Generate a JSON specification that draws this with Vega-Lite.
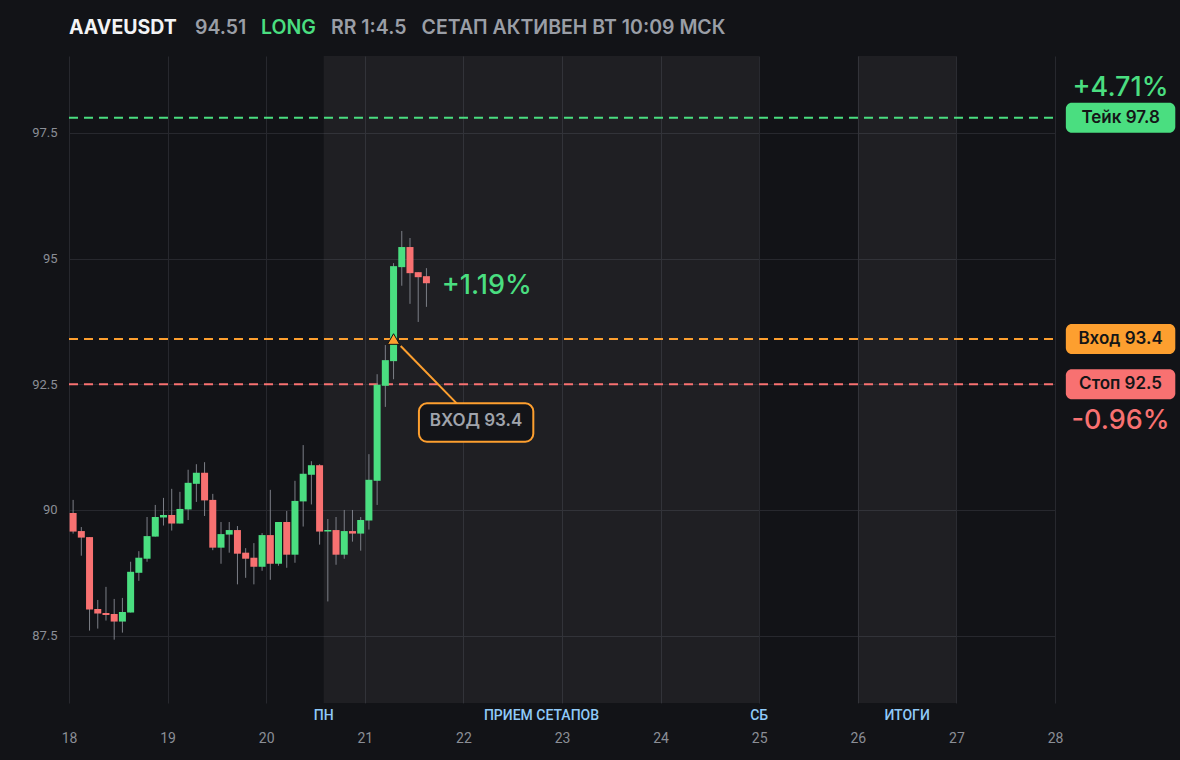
{
  "$schema": "https://vega.github.io/schema/vega-lite/v6.json",
  "width": 986,
  "height": 647,
  "autosize": {"type": "none"},
  "padding": {"left": 69, "top": 56, "right": 125, "bottom": 57},
  "background": "#121317",
  "config": {
    "view": {"stroke": null},
    "font": "Inter",
    "axis": {
      "domain": false,
      "ticks": false,
      "grid": true,
      "gridColor": "#27282e",
      "gridWidth": 1,
      "labelColor": "#8b8e96",
      "labelFont": "Roboto",
      "labelFlush": false,
      "title": null
    }
  },
  "datasets": {
    "candles": [
      {"t": 18.0417, "o": 89.94, "h": 90.20, "l": 89.53, "c": 89.57},
      {"t": 18.1250, "o": 89.58, "h": 89.66, "l": 89.09, "c": 89.45},
      {"t": 18.2083, "o": 89.46, "h": 89.46, "l": 87.60, "c": 88.02},
      {"t": 18.2917, "o": 88.03, "h": 88.21, "l": 87.64, "c": 87.94},
      {"t": 18.3750, "o": 87.95, "h": 88.47, "l": 87.80, "c": 87.91},
      {"t": 18.4583, "o": 87.93, "h": 88.23, "l": 87.42, "c": 87.78},
      {"t": 18.5417, "o": 87.78, "h": 88.25, "l": 87.56, "c": 87.97},
      {"t": 18.6250, "o": 87.96, "h": 88.97, "l": 87.96, "c": 88.77},
      {"t": 18.7083, "o": 88.75, "h": 89.18, "l": 88.59, "c": 89.05},
      {"t": 18.7917, "o": 89.03, "h": 89.86, "l": 88.97, "c": 89.48},
      {"t": 18.8750, "o": 89.47, "h": 90.10, "l": 89.47, "c": 89.86},
      {"t": 18.9583, "o": 89.85, "h": 90.24, "l": 89.69, "c": 89.90},
      {"t": 19.0417, "o": 89.90, "h": 90.42, "l": 89.59, "c": 89.73},
      {"t": 19.1250, "o": 89.73, "h": 90.36, "l": 89.73, "c": 90.02},
      {"t": 19.2083, "o": 90.01, "h": 90.80, "l": 89.80, "c": 90.54},
      {"t": 19.2917, "o": 90.52, "h": 90.91, "l": 90.16, "c": 90.74},
      {"t": 19.3750, "o": 90.74, "h": 90.95, "l": 89.88, "c": 90.19},
      {"t": 19.4583, "o": 90.20, "h": 90.32, "l": 89.20, "c": 89.25},
      {"t": 19.5417, "o": 89.25, "h": 89.76, "l": 88.93, "c": 89.52},
      {"t": 19.6250, "o": 89.51, "h": 89.76, "l": 89.15, "c": 89.60},
      {"t": 19.7083, "o": 89.60, "h": 89.68, "l": 88.52, "c": 89.13},
      {"t": 19.7917, "o": 89.15, "h": 89.24, "l": 88.65, "c": 89.03},
      {"t": 19.8750, "o": 89.05, "h": 89.34, "l": 88.52, "c": 88.87},
      {"t": 19.9583, "o": 88.87, "h": 89.54, "l": 88.79, "c": 89.50},
      {"t": 20.0417, "o": 89.50, "h": 90.40, "l": 88.61, "c": 88.93},
      {"t": 20.1250, "o": 88.93, "h": 89.76, "l": 88.89, "c": 89.76},
      {"t": 20.2083, "o": 89.76, "h": 89.98, "l": 88.85, "c": 89.11},
      {"t": 20.2917, "o": 89.11, "h": 90.58, "l": 88.95, "c": 90.18},
      {"t": 20.3750, "o": 90.17, "h": 91.29, "l": 89.67, "c": 90.72},
      {"t": 20.4583, "o": 90.70, "h": 90.97, "l": 90.11, "c": 90.89},
      {"t": 20.5417, "o": 90.89, "h": 90.91, "l": 89.31, "c": 89.57},
      {"t": 20.6250, "o": 89.57, "h": 89.82, "l": 88.18, "c": 89.60},
      {"t": 20.7083, "o": 89.60, "h": 89.86, "l": 88.91, "c": 89.11},
      {"t": 20.7917, "o": 89.11, "h": 90.00, "l": 89.03, "c": 89.58},
      {"t": 20.8750, "o": 89.58, "h": 90.00, "l": 89.37, "c": 89.53},
      {"t": 20.9583, "o": 89.53, "h": 89.86, "l": 89.19, "c": 89.80},
      {"t": 21.0417, "o": 89.79, "h": 91.11, "l": 89.61, "c": 90.60},
      {"t": 21.1250, "o": 90.58, "h": 92.70, "l": 90.10, "c": 92.49},
      {"t": 21.2083, "o": 92.47, "h": 93.28, "l": 92.05, "c": 92.98},
      {"t": 21.2917, "o": 92.96, "h": 94.91, "l": 92.60, "c": 94.85},
      {"t": 21.3750, "o": 94.83, "h": 95.55, "l": 94.46, "c": 95.23},
      {"t": 21.4583, "o": 95.23, "h": 95.41, "l": 94.10, "c": 94.71},
      {"t": 21.5417, "o": 94.73, "h": 94.73, "l": 93.74, "c": 94.63},
      {"t": 21.6250, "o": 94.65, "h": 94.81, "l": 94.04, "c": 94.51}
    ],
    "levels": [
      {"level": 97.8, "kind": "Тейк", "label": "Тейк 97.8"},
      {"level": 93.4, "kind": "Вход", "label": "Вход 93.4"},
      {"level": 92.5, "kind": "Стоп", "label": "Стоп 92.5"}
    ],
    "bands": [
      {"start": 20.5833, "end": 25, "name": "ПРИЕМ СЕТАПОВ"},
      {"start": 26, "end": 27, "name": "ИТОГИ"}
    ],
    "bandLabels": [
      {"x": 20.5833, "label": "ПН"},
      {"x": 22.7917, "label": "ПРИЕМ СЕТАПОВ"},
      {"x": 25, "label": "СБ"},
      {"x": 26.5, "label": "ИТОГИ"}
    ]
  },
  "layer": [
    {
      "data": {"name": "bands"},
      "mark": {"type": "rect", "color": "#ffffff", "opacity": 0.055},
      "encoding": {
        "x": {"field": "start", "type": "quantitative",
          "scale": {"domain": [18, 28], "nice": false, "zero": false, "padding": 0},
          "axis": {"values": [18, 19, 20, 21, 22, 23, 24, 25, 26, 27, 28], "labelFontSize": 14, "labelPadding": 28, "format": "d"}},
        "x2": {"field": "end"},
        "y": {"datum": 86.16, "type": "quantitative",
          "scale": {"domain": [86.16, 99.03], "nice": false, "zero": false, "padding": 0},
          "axis": {"values": [87.5, 90, 92.5, 95, 97.5], "labelExpr": "replace(format(datum.value, '.1f'), '.0', '')", "labelFontSize": 13, "labelPadding": 12}},
        "y2": {"datum": 99.03}
      }
    },
    {
      "data": {"name": "bandLabels"},
      "mark": {"type": "text", "color": "#90caf9", "font": "Roboto", "fontWeight": 500, "fontSize": 14, "baseline": "middle", "align": "center", "dy": 13},
      "encoding": {
        "x": {"field": "x", "type": "quantitative"},
        "y": {"datum": 86.16},
        "text": {"field": "label"}
      }
    },
    {
      "data": {"name": "levels"},
      "mark": {"type": "rule", "strokeWidth": 2, "strokeDash": [9, 6]},
      "encoding": {
        "x": {"datum": 18},
        "x2": {"datum": 28},
        "y": {"field": "level", "type": "quantitative"},
        "color": {"field": "kind", "type": "nominal",
          "scale": {"domain": ["Тейк", "Вход", "Стоп"], "range": ["#4ade80", "#fd9f2f", "#f87171"]},
          "legend": null}
      }
    },
    {
      "data": {"name": "candles"},
      "mark": {"type": "rule", "color": "#7c7f87", "strokeWidth": 1},
      "encoding": {
        "x": {"field": "t", "type": "quantitative"},
        "y": {"field": "l", "type": "quantitative"},
        "y2": {"field": "h"}
      }
    },
    {
      "data": {"name": "candles"},
      "mark": {"type": "bar", "size": 7},
      "encoding": {
        "x": {"field": "t", "type": "quantitative"},
        "y": {"field": "o", "type": "quantitative"},
        "y2": {"field": "c"},
        "color": {"condition": {"test": "datum.c >= datum.o", "value": "#4ade80"}, "value": "#f87171"}
      }
    },
    {
      "data": {"name": "levels"},
      "mark": {"type": "rect", "cornerRadius": 6, "yOffset": -15, "y2Offset": 15},
      "encoding": {
        "x": {"datum": 28.11},
        "x2": {"datum": 29.22},
        "y": {"field": "level", "type": "quantitative"},
        "y2": {"field": "level"},
        "color": {"field": "kind", "type": "nominal", "legend": null}
      }
    },
    {
      "data": {"name": "levels"},
      "mark": {"type": "text", "color": "#141517", "fontSize": 17, "fontWeight": 600, "align": "center", "baseline": "middle"},
      "encoding": {
        "x": {"datum": 28.665},
        "y": {"field": "level", "type": "quantitative"},
        "text": {"field": "label"}
      }
    },
    {
      "data": {"values": [{"level": 97.8, "pct": "+4.71%"}]},
      "mark": {"type": "text", "color": "#4ade80", "fontSize": 27, "fontWeight": 500, "align": "center", "baseline": "middle", "dy": -30},
      "encoding": {
        "x": {"datum": 28.665},
        "y": {"field": "level", "type": "quantitative"},
        "text": {"field": "pct"}
      }
    },
    {
      "data": {"values": [{"level": 92.5, "pct": "-0.96%"}]},
      "mark": {"type": "text", "color": "#f87171", "fontSize": 27, "fontWeight": 500, "align": "center", "baseline": "middle", "dy": 37},
      "encoding": {
        "x": {"datum": 28.665},
        "y": {"field": "level", "type": "quantitative"},
        "text": {"field": "pct"}
      }
    },
    {
      "data": {"values": [{"x": 21.78, "y": 94.45, "pct": "+1.19%"}]},
      "mark": {"type": "text", "color": "#4ade80", "fontSize": 27, "fontWeight": 500, "align": "left", "baseline": "middle"},
      "encoding": {
        "x": {"field": "x", "type": "quantitative"},
        "y": {"field": "y", "type": "quantitative"},
        "text": {"field": "pct"}
      }
    },
    {
      "data": {"values": [{"x": 21.364, "y": 93.26, "x2": 21.932, "y2": 92.12}]},
      "mark": {"type": "rule", "color": "#fd9f2f", "strokeWidth": 2},
      "encoding": {
        "x": {"field": "x", "type": "quantitative"},
        "y": {"field": "y", "type": "quantitative"},
        "x2": {"field": "x2"},
        "y2": {"field": "y2"}
      }
    },
    {
      "data": {"values": [{"t": 21.2917, "price": 93.4}]},
      "mark": {"type": "point", "shape": "triangle-up", "filled": true, "size": 150, "color": "#fd9f2f", "stroke": "#111214", "strokeWidth": 1, "opacity": 1},
      "encoding": {
        "x": {"field": "t", "type": "quantitative"},
        "y": {"field": "price", "type": "quantitative"}
      }
    },
    {
      "data": {"values": [{"x": 21.549, "x2": 22.709, "y": 92.121, "y2": 91.358}]},
      "mark": {"type": "rect", "fill": "#131418", "stroke": "#fd9f2f", "strokeWidth": 2, "cornerRadius": 8},
      "encoding": {
        "x": {"field": "x", "type": "quantitative"},
        "x2": {"field": "x2"},
        "y": {"field": "y", "type": "quantitative"},
        "y2": {"field": "y2"}
      }
    },
    {
      "data": {"values": [{"x": 22.128, "y": 91.77, "label": "ВХОД 93.4"}]},
      "mark": {"type": "text", "color": "#a0a4ac", "fontSize": 17, "fontWeight": 600, "align": "center", "baseline": "middle"},
      "encoding": {
        "x": {"field": "x", "type": "quantitative"},
        "y": {"field": "y", "type": "quantitative"},
        "text": {"field": "label"}
      }
    },
    {
      "data": {"values": [{"label": "AAVEUSDT"}]},
      "mark": {"type": "text", "color": "#f2f3f5", "fontSize": 19.5, "fontWeight": 700, "align": "left", "baseline": "middle", "dy": -28},
      "encoding": {"x": {"datum": 18.0}, "y": {"datum": 99.03}, "text": {"field": "label"}}
    },
    {
      "data": {"values": [{"label": "94.51"}]},
      "mark": {"type": "text", "color": "#9a9ea6", "fontSize": 19.5, "fontWeight": 600, "align": "left", "baseline": "middle", "dy": -28},
      "encoding": {"x": {"datum": 19.278}, "y": {"datum": 99.03}, "text": {"field": "label"}}
    },
    {
      "data": {"values": [{"label": "LONG"}]},
      "mark": {"type": "text", "color": "#4ade80", "fontSize": 19.5, "fontWeight": 600, "align": "left", "baseline": "middle", "dy": -28},
      "encoding": {"x": {"datum": 19.947}, "y": {"datum": 99.03}, "text": {"field": "label"}}
    },
    {
      "data": {"values": [{"label": "RR 1:4.5"}]},
      "mark": {"type": "text", "color": "#9a9ea6", "fontSize": 19.5, "fontWeight": 600, "align": "left", "baseline": "middle", "dy": -28},
      "encoding": {"x": {"datum": 20.657}, "y": {"datum": 99.03}, "text": {"field": "label"}}
    },
    {
      "data": {"values": [{"label": "СЕТАП АКТИВЕН ВТ 10:09 МСК"}]},
      "mark": {"type": "text", "color": "#9a9ea6", "fontSize": 19.5, "fontWeight": 600, "align": "left", "baseline": "middle", "dy": -28},
      "encoding": {"x": {"datum": 21.576}, "y": {"datum": 99.03}, "text": {"field": "label"}}
    }
  ]
}
